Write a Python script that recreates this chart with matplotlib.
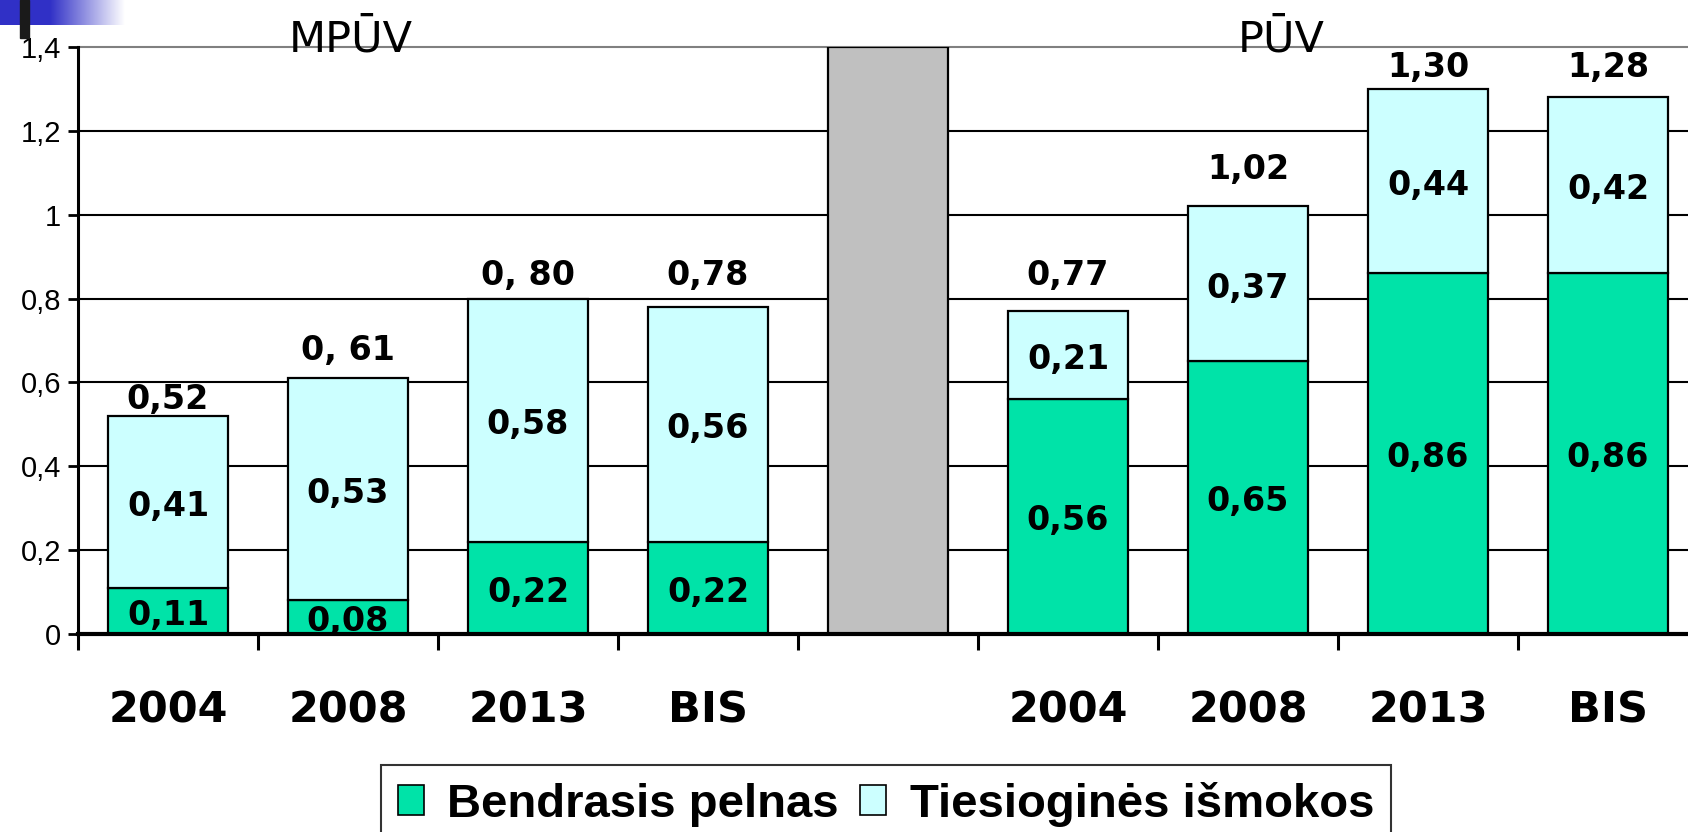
import numpy as np
import matplotlib.pyplot as plt
from matplotlib.patches import Patch, Rectangle

# Duomenys
kategorijos = ['2004', '2008', '2013', 'BIS', '', '2004', '2008', '2013', 'BIS']
pelnas = [0.11, 0.08, 0.22, 0.22, 0, 0.56, 0.65, 0.86, 0.86]
ismokos = [0.41, 0.53, 0.58, 0.56, 0, 0.21, 0.37, 0.44, 0.42]
sumos = ['0,52', '0, 61', '0, 80', '0,78', '', '0,77', '1,02', '1,30', '1,28']
# sumu etikeciu aukstis (rankiniu budu pastatytos, kaip originale)
sumu_y = [0.567, 0.683, 0.862, 0.862, 0, 0.862, 1.114, 1.358, 1.358]
skirtukas = 1.4          # pilka juosta tarp grupiu
skirtuko_vieta = 4
y_ticks = [0, 0.2, 0.4, 0.6, 0.8, 1.0, 1.2, 1.4]
y_zymes = ['0', '0,2', '0,4', '0,6', '0,8', '1', '1,2', '1,4']

ZALIA = '#00E3A8'
ZYDRA = '#CCFFFF'
PILKA = '#C0C0C0'

fig = plt.figure(figsize=(16.88, 8.32), dpi=100)
ax = fig.add_axes([78 / 1688, 198 / 832, 1620 / 1688, 587 / 832])

x = np.arange(len(kategorijos))
plot = 0.67

for i in x:
    if i == skirtuko_vieta:
        ax.bar(i, skirtukas, plot, color=PILKA, edgecolor='black', linewidth=1.6, zorder=3)
        continue
    ax.bar(i, pelnas[i], plot, color=ZALIA, edgecolor='black', linewidth=1.6, zorder=3)
    ax.bar(i, ismokos[i], plot, bottom=pelnas[i], color=ZYDRA,
           edgecolor='black', linewidth=1.6, zorder=3)
    # reiksmes segmentuose
    ax.annotate(f"{pelnas[i]:.2f}".replace('.', ','), (i, pelnas[i] / 2),
                xytext=(0, -3), textcoords='offset points',
                ha='center', va='center', fontsize=24, fontweight='bold', zorder=4)
    ax.annotate(f"{ismokos[i]:.2f}".replace('.', ','), (i, pelnas[i] + ismokos[i] / 2),
                xytext=(0, -3), textcoords='offset points',
                ha='center', va='center', fontsize=24, fontweight='bold', zorder=4)
    # suma virsuje
    ax.annotate(sumos[i], (i, sumu_y[i]), xytext=(0, -2), textcoords='offset points',
                ha='center', va='center', fontsize=24, fontweight='bold', zorder=4)

ax.set_xlim(-0.5, len(kategorijos) - 0.5)
ax.set_ylim(0, 1.4)

# tinklelis
for v in y_ticks[1:-1]:
    ax.axhline(v, color='black', linewidth=1.5, zorder=1)
ax.axhline(y_ticks[-1], color='#808080', linewidth=1.5, zorder=1, clip_on=False)

ax.set_yticks(y_ticks)
ax.set_yticklabels(y_zymes, fontsize=21, family='Liberation Sans')
ax.tick_params(axis='y', direction='out', length=7, width=2, pad=5)

ax.set_xticks(x)
ax.set_xticklabels(kategorijos, fontsize=31, fontweight='bold')
ax.tick_params(axis='x', which='major', length=0, pad=40)
ax.set_xticks(np.arange(-0.5, len(kategorijos), 1), minor=True)
ax.tick_params(axis='x', which='minor', direction='out', length=11.5, width=2.2)

for s in ['top', 'right']:
    ax.spines[s].set_visible(False)
ax.spines['left'].set_linewidth(2.2)
ax.spines['bottom'].set_linewidth(3)
ax.spines['bottom'].set_zorder(5)

# grupiu pavadinimai
fig.text(351 / 1688, 1 - 52 / 832, 'MPŪV', ha='center', va='baseline', fontsize=31)
fig.text(1281 / 1688, 1 - 52 / 832, 'PŪV', ha='center', va='baseline', fontsize=31)

# melyna puosmena kaireje virsuje
grad = np.ones((1, 256, 3))
t = np.clip((np.linspace(0, 125, 256) - 50) / 75, 0, 1)
melyna = np.array([0.19, 0.19, 0.78])
for k in range(3):
    grad[0, :, k] = melyna[k] + (1 - melyna[k]) * t
dax = fig.add_axes([0, 1 - 25 / 832, 125 / 1688, 25 / 832])
dax.imshow(grad, aspect='auto', extent=(0, 1, 0, 1))
dax.axis('off')
fig.patches.append(Rectangle((20 / 1688, 1 - 38 / 832), 9 / 1688, 38 / 832,
                             transform=fig.transFigure, color='#1a1a1a', zorder=10))

# legenda
rankenos = [Patch(facecolor=ZALIA, edgecolor='black', linewidth=1.2, label='Bendrasis pelnas'),
            Patch(facecolor=ZYDRA, edgecolor='black', linewidth=1.2, label='Tiesioginės išmokos')]
leg = fig.legend(handles=rankenos, loc='upper center', bbox_to_anchor=(886 / 1688, 1 - 765 / 832),
                 ncol=2, frameon=True, fancybox=False, borderpad=0.35, handlelength=0.55,
                 handleheight=0.6, handletextpad=0.5, columnspacing=0.45, borderaxespad=0,
                 prop={'family': 'Liberation Sans', 'weight': 'bold', 'size': 34})
leg.get_frame().set_edgecolor('black')
leg.get_frame().set_linewidth(1.5)

plt.savefig('out.png', dpi=100)
